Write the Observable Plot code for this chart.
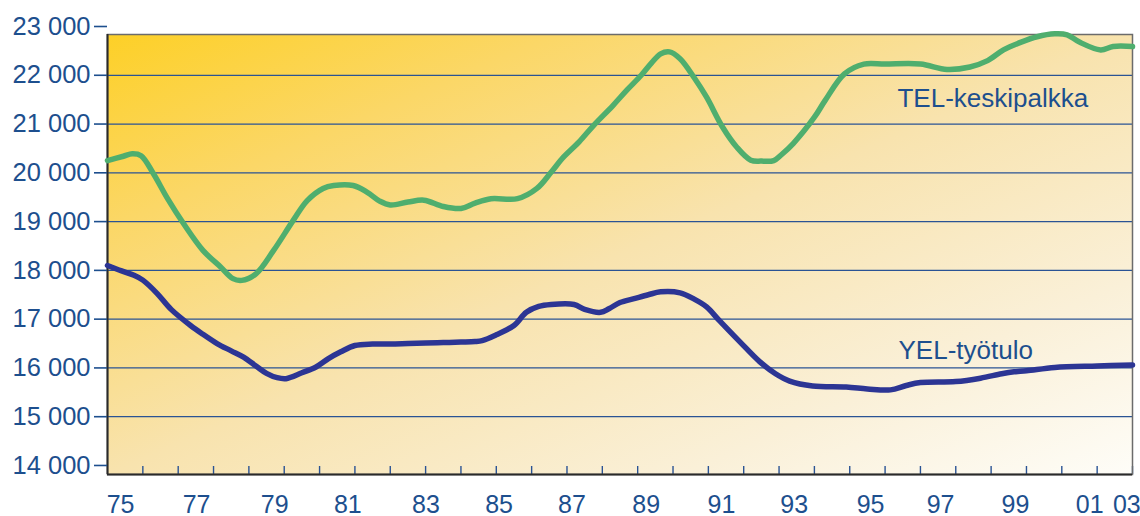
<!DOCTYPE html>
<html>
<head>
<meta charset="utf-8">
<script src="https://cdn.jsdelivr.net/npm/d3@7"></script>
<script src="https://cdn.jsdelivr.net/npm/@observablehq/plot@0.6"></script>
<style>
  html, body { margin: 0; padding: 0; background: #ffffff; }
  #chart { width: 1140px; height: 516px; }
</style>
</head>
<body>
<div id="chart"></div>
<script>
// ---- Data ----
// TEL-keskipalkka: time (fractional year) and value
const telT = [1975.0, 1975.45, 1975.7, 1975.95, 1976.3, 1976.7, 1977.15, 1977.7, 1978.2, 1978.55, 1978.8,
  1979.2, 1979.7, 1980.25, 1980.65, 1981.1, 1981.4, 1981.95, 1982.35, 1982.7, 1983.0, 1983.5, 1983.95,
  1984.5, 1985.0, 1985.4, 1985.85, 1986.6, 1987.15, 1987.55, 1987.9, 1988.35, 1988.75, 1989.3, 1989.7,
  1990.1, 1990.4, 1990.65, 1990.9, 1991.2, 1991.6, 1991.95, 1992.4, 1992.8, 1993.2, 1993.5, 1993.85,
  1994.05, 1994.4, 1995.0, 1995.3, 1995.85, 1996.4, 1997.0, 1998.0, 1998.75, 1999.4, 1999.9, 2000.35,
  2000.85, 2001.3, 2001.8, 2002.15, 2002.5, 2003.1, 2003.45, 2004.0];
const telV = [20250, 20340, 20390, 20350, 19980, 19470, 18960, 18410, 18070, 17830, 17795,
  17930, 18410, 19020, 19430, 19680, 19740, 19740, 19600, 19420, 19340, 19400, 19440,
  19310, 19270, 19380, 19470, 19470, 19680, 20010, 20320, 20640, 20970, 21380, 21700,
  22000, 22260, 22440, 22480, 22340, 21950, 21550, 20940, 20530, 20260, 20240, 20250,
  20360, 20600, 21140, 21480, 22030, 22230, 22230, 22230, 22120, 22170, 22300, 22520,
  22680, 22790, 22850, 22830, 22680, 22520, 22590, 22590];

// YEL-työtulo: time (fractional year) and value
const yelT = [1975.0, 1975.4, 1975.75, 1976.0, 1976.4, 1976.8, 1977.35, 1977.7, 1978.1, 1978.5, 1978.85,
  1979.2, 1979.5, 1979.8, 1980.05, 1980.5, 1980.9, 1981.25, 1981.6, 1982.0, 1982.5, 1983.0, 1983.5,
  1984.0, 1984.5, 1985.0, 1985.4, 1985.6, 1986.0, 1986.5, 1986.85, 1987.2, 1987.55, 1988.2, 1988.5,
  1988.95, 1989.2, 1989.5, 1989.9, 1990.3, 1990.65, 1991.2, 1991.6, 1991.95, 1992.3, 1992.9, 1993.45,
  1993.9, 1994.3, 1994.95, 1995.9, 1996.5, 1997.15, 1997.6, 1998.0, 1999.0, 1999.7, 2000.3, 2000.65,
  2001.0, 2001.8, 2003.0, 2004.0];
const yelV = [18100, 17990, 17900, 17800, 17530, 17200, 16870, 16690, 16500, 16350, 16220,
  16040, 15890, 15800, 15780, 15900, 16020, 16190, 16330, 16460, 16490, 16490, 16500,
  16510, 16520, 16530, 16540, 16560, 16680, 16870, 17140, 17260, 17300, 17300, 17200,
  17140, 17220, 17340, 17420, 17500, 17560, 17540, 17410, 17250, 16980, 16530, 16130,
  15880, 15730, 15630, 15610, 15570, 15550, 15640, 15700, 15720, 15790, 15880, 15920,
  15940, 16010, 16040, 16060];

// Axis ticks and labels
const yTicks = [14000, 15000, 16000, 17000, 18000, 19000, 20000, 21000, 22000, 23000];
const yGrid = [15000, 16000, 17000, 18000, 19000, 20000, 21000, 22000];
const xYearTicks = d3.range(1976, 2005);
const xLabels = ["75", "77", "79", "81", "83", "85", "87", "89", "91", "93", "95", "97", "99", "01", "03"];
const xLabelPos = [1975.37, 1977.52, 1979.73, 1981.80, 1984.01, 1986.08, 1988.14, 1990.24, 1992.37,
  1994.43, 1996.59, 1998.57, 2000.69, 2002.79, 2003.84];

const seriesNames = ["TEL-keskipalkka", "YEL-työtulo"];

// ---- Build tables ----
const tel = telT.map((t, i) => ({t, v: telV[i]}));
const yel = yelT.map((t, i) => ({t, v: yelV[i]}));
const xLab = xLabels.map((s, i) => ({x: xLabelPos[i], s}));

// ---- Styling ----
const blueText = "#1d4f8e";
const gridColor = "#2a5394";
const green = "#4fae6e";
const navy = "#2c3594";
const font = "'Liberation Sans', Arial, sans-serif";

const xDomain = [1975, 2004];
const yDomain = [13815, 22836];

// gradient definition mark
function gradientDefs() {
  const ns = "http://www.w3.org/2000/svg";
  const defs = document.createElementNS(ns, "defs");
  const lg = document.createElementNS(ns, "linearGradient");
  lg.setAttribute("id", "bgGrad");
  lg.setAttribute("x1", "0"); lg.setAttribute("y1", "0");
  lg.setAttribute("x2", "1"); lg.setAttribute("y2", "1");
  const stops = [[0, "#fdd027"], [0.22, "#fbd767"], [0.5, "#f8e3ae"], [0.78, "#faf0d8"], [1, "#fefdf8"]];
  for (const [o, c] of stops) {
    const s = document.createElementNS(ns, "stop");
    s.setAttribute("offset", o);
    s.setAttribute("stop-color", c);
    lg.appendChild(s);
  }
  defs.appendChild(lg);
  return defs;
}

const chart = Plot.plot({
  width: 1140,
  height: 516,
  marginLeft: 107,
  marginRight: 8,
  marginTop: 34,
  marginBottom: 42,
  style: {fontFamily: font, background: "#ffffff", overflow: "visible"},
  x: {domain: xDomain, axis: null},
  y: {domain: yDomain, axis: null},
  marks: [
    gradientDefs,
    Plot.frame({fill: "url(#bgGrad)", stroke: null}),
    Plot.gridY(yGrid, {stroke: gridColor, strokeOpacity: 1, strokeWidth: 1.3}),
    // inner x ticks
    Plot.tickX(xYearTicks, {x: d => d, stroke: gridColor, strokeWidth: 1.4, render: (index, scales, values, dims, context, next) => {
      const g = next(index, scales, values, dims, context);
      const bottom = dims.height - dims.marginBottom;
      g.querySelectorAll("line").forEach(l => { l.setAttribute("y1", bottom - 8); l.setAttribute("y2", bottom); });
      return g;
    }}),
    // frame
    Plot.frame({stroke: "#6b6b6b", strokeWidth: 1.5}),
    Plot.ruleX([xDomain[0]], {stroke: "#2a2a2a", strokeWidth: 2}),
    Plot.ruleY([yDomain[0]], {stroke: "#2a2a2a", strokeWidth: 2}),
    // y axis
    Plot.axisY(yTicks, {
      anchor: "left", tickSize: 13, tickPadding: 4, label: null,
      stroke: blueText, strokeWidth: 1.6, color: blueText, fill: blueText,
      fontSize: 25.5,
      tickFormat: d => d3.format(",")(d).replace(/,/g, " ")
    }),
    // x labels
    Plot.text(xLab, {x: "x", text: "s", frameAnchor: "bottom", dy: 30, lineAnchor: "middle",
      fill: blueText, fontSize: 25, textAnchor: "middle"}),
    // lines
    Plot.line(tel, {x: "t", y: "v", stroke: green, strokeWidth: 5.5, curve: "catmull-rom"}),
    Plot.line(yel, {x: "t", y: "v", stroke: navy, strokeWidth: 5.5, curve: "catmull-rom"}),
    // series labels
    Plot.text([seriesNames[0]], {x: 1997.35, y: 21524, text: d => d, textAnchor: "start",
      fill: blueText, fontSize: 26, lineAnchor: "middle"}),
    Plot.text([seriesNames[1]], {x: 1997.38, y: 16358, text: d => d, textAnchor: "start",
      fill: blueText, fontSize: 26, lineAnchor: "middle"})
  ]
});

document.getElementById("chart").appendChild(chart);
</script>
</body>
</html>
